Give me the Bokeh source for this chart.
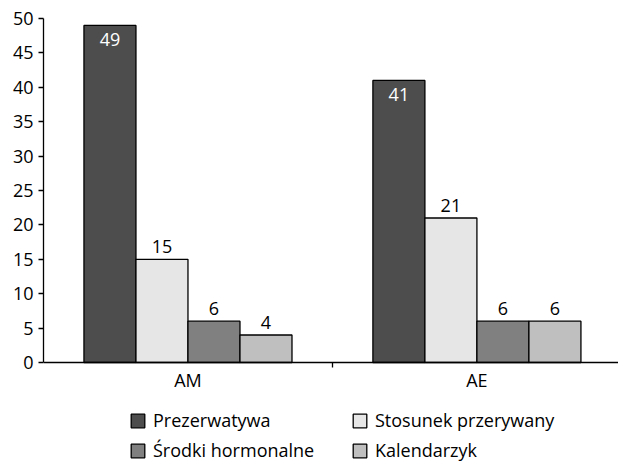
from bokeh.plotting import figure
from bokeh.models import (ColumnDataSource, Range1d, FixedTicker, Legend, LegendItem,
                          LabelSet)
from bokeh.core.properties import value
from bokeh.embed import file_html
from bokeh.resources import INLINE

categories = ["AM", "AE"]
series = ["Prezerwatywa", "Stosunek przerywany", "Środki hormonalne", "Kalendarzyk"]
prezerwatywa = [49, 41]
stosunek = [15, 21]
srodki = [6, 6]
kalendarzyk = [4, 6]
values = [prezerwatywa, stosunek, srodki, kalendarzyk]
colors = ["#4d4d4d", "#e6e6e6", "#808080", "#bfbfbf"]
label_colors = ["white", "black", "black", "black"]
y_ticks = list(range(0, 55, 5))

FONT = "Open Sans"
FS = "18px"

# frame: top at 18px, y=0 at 362px, bottom of frame at 462px
px_per_unit = (362 - 18) / 50.0
y_min = -(462 - 362) / px_per_unit

p = figure(width=618, height=462, output_backend="svg", toolbar_location=None,
           x_range=Range1d(0, 1.99), y_range=Range1d(y_min, 50),
           min_border_left=43, min_border_right=0, min_border_top=18,
           min_border_bottom=0)
p.outline_line_color = None
p.grid.visible = False
p.background_fill_color = "white"

offsets = [-0.27, -0.09, 0.09, 0.27]
bar_w = 0.18
items = []
for k, name in enumerate(series):
    xs = [i + 0.5 + offsets[k] for i in range(len(categories))]
    vals = values[k]
    inside = k == 0
    src = ColumnDataSource(dict(x=xs, top=vals, lab=[str(v) for v in vals]))
    r = p.vbar(x="x", top="top", width=bar_w, bottom=0, source=src,
               fill_color=colors[k], line_color="black", line_width=1.3)
    items.append(LegendItem(label=name, renderers=[r]))
    ls = LabelSet(x="x", y="top", text="lab", source=src,
                  text_align="center", text_baseline="alphabetic",
                  y_offset=-21 if inside else 6,
                  text_color=label_colors[k], text_font=value(FONT),
                  text_font_size=FS)
    p.add_layout(ls)

# y axis
ya = p.yaxis[0]
ya.bounds = (0, 50)
ya.ticker = FixedTicker(ticks=y_ticks)
ya.major_tick_out = 5
ya.major_tick_in = 0
ya.minor_tick_out = 0
ya.minor_tick_in = 0
ya.axis_line_width = 1.3
ya.axis_line_color = "black"
ya.major_tick_line_color = "black"
ya.major_tick_line_width = 1.3
ya.major_label_text_font = FONT
ya.major_label_text_font_size = FS
ya.major_label_text_color = "black"
ya.major_label_standoff = 5

# x axis drawn at y = 0
xa = p.xaxis[0]
xa.fixed_location = 0
xa.ticker = FixedTicker(ticks=[i + 0.5 for i in range(len(categories))],
                        minor_ticks=[float(i) for i in range(1, len(categories))])
xa.major_label_overrides = {i + 0.5: c for i, c in enumerate(categories)}
xa.major_tick_out = 0
xa.major_tick_in = 0
xa.minor_tick_out = 5
xa.minor_tick_in = 0
xa.minor_tick_line_color = "black"
xa.minor_tick_line_width = 1.3
xa.axis_line_width = 1.3
xa.axis_line_color = "black"
xa.major_label_text_font = FONT
xa.major_label_text_font_size = FS
xa.major_label_text_color = "black"
xa.major_label_standoff = 0

legend = Legend(items=items, ncols=2, orientation="horizontal",
                label_text_font=FONT, label_text_font_size=FS,
                label_text_color="black",
                glyph_width=17, glyph_height=17, label_standoff=7,
                spacing=6, label_height=20, label_width=192,
                border_line_color=None, background_fill_alpha=0,
                padding=0, margin=0, location=(86, 0))
p.add_layout(legend, "center")

open("out.html", "w").write(file_html(p, INLINE))
